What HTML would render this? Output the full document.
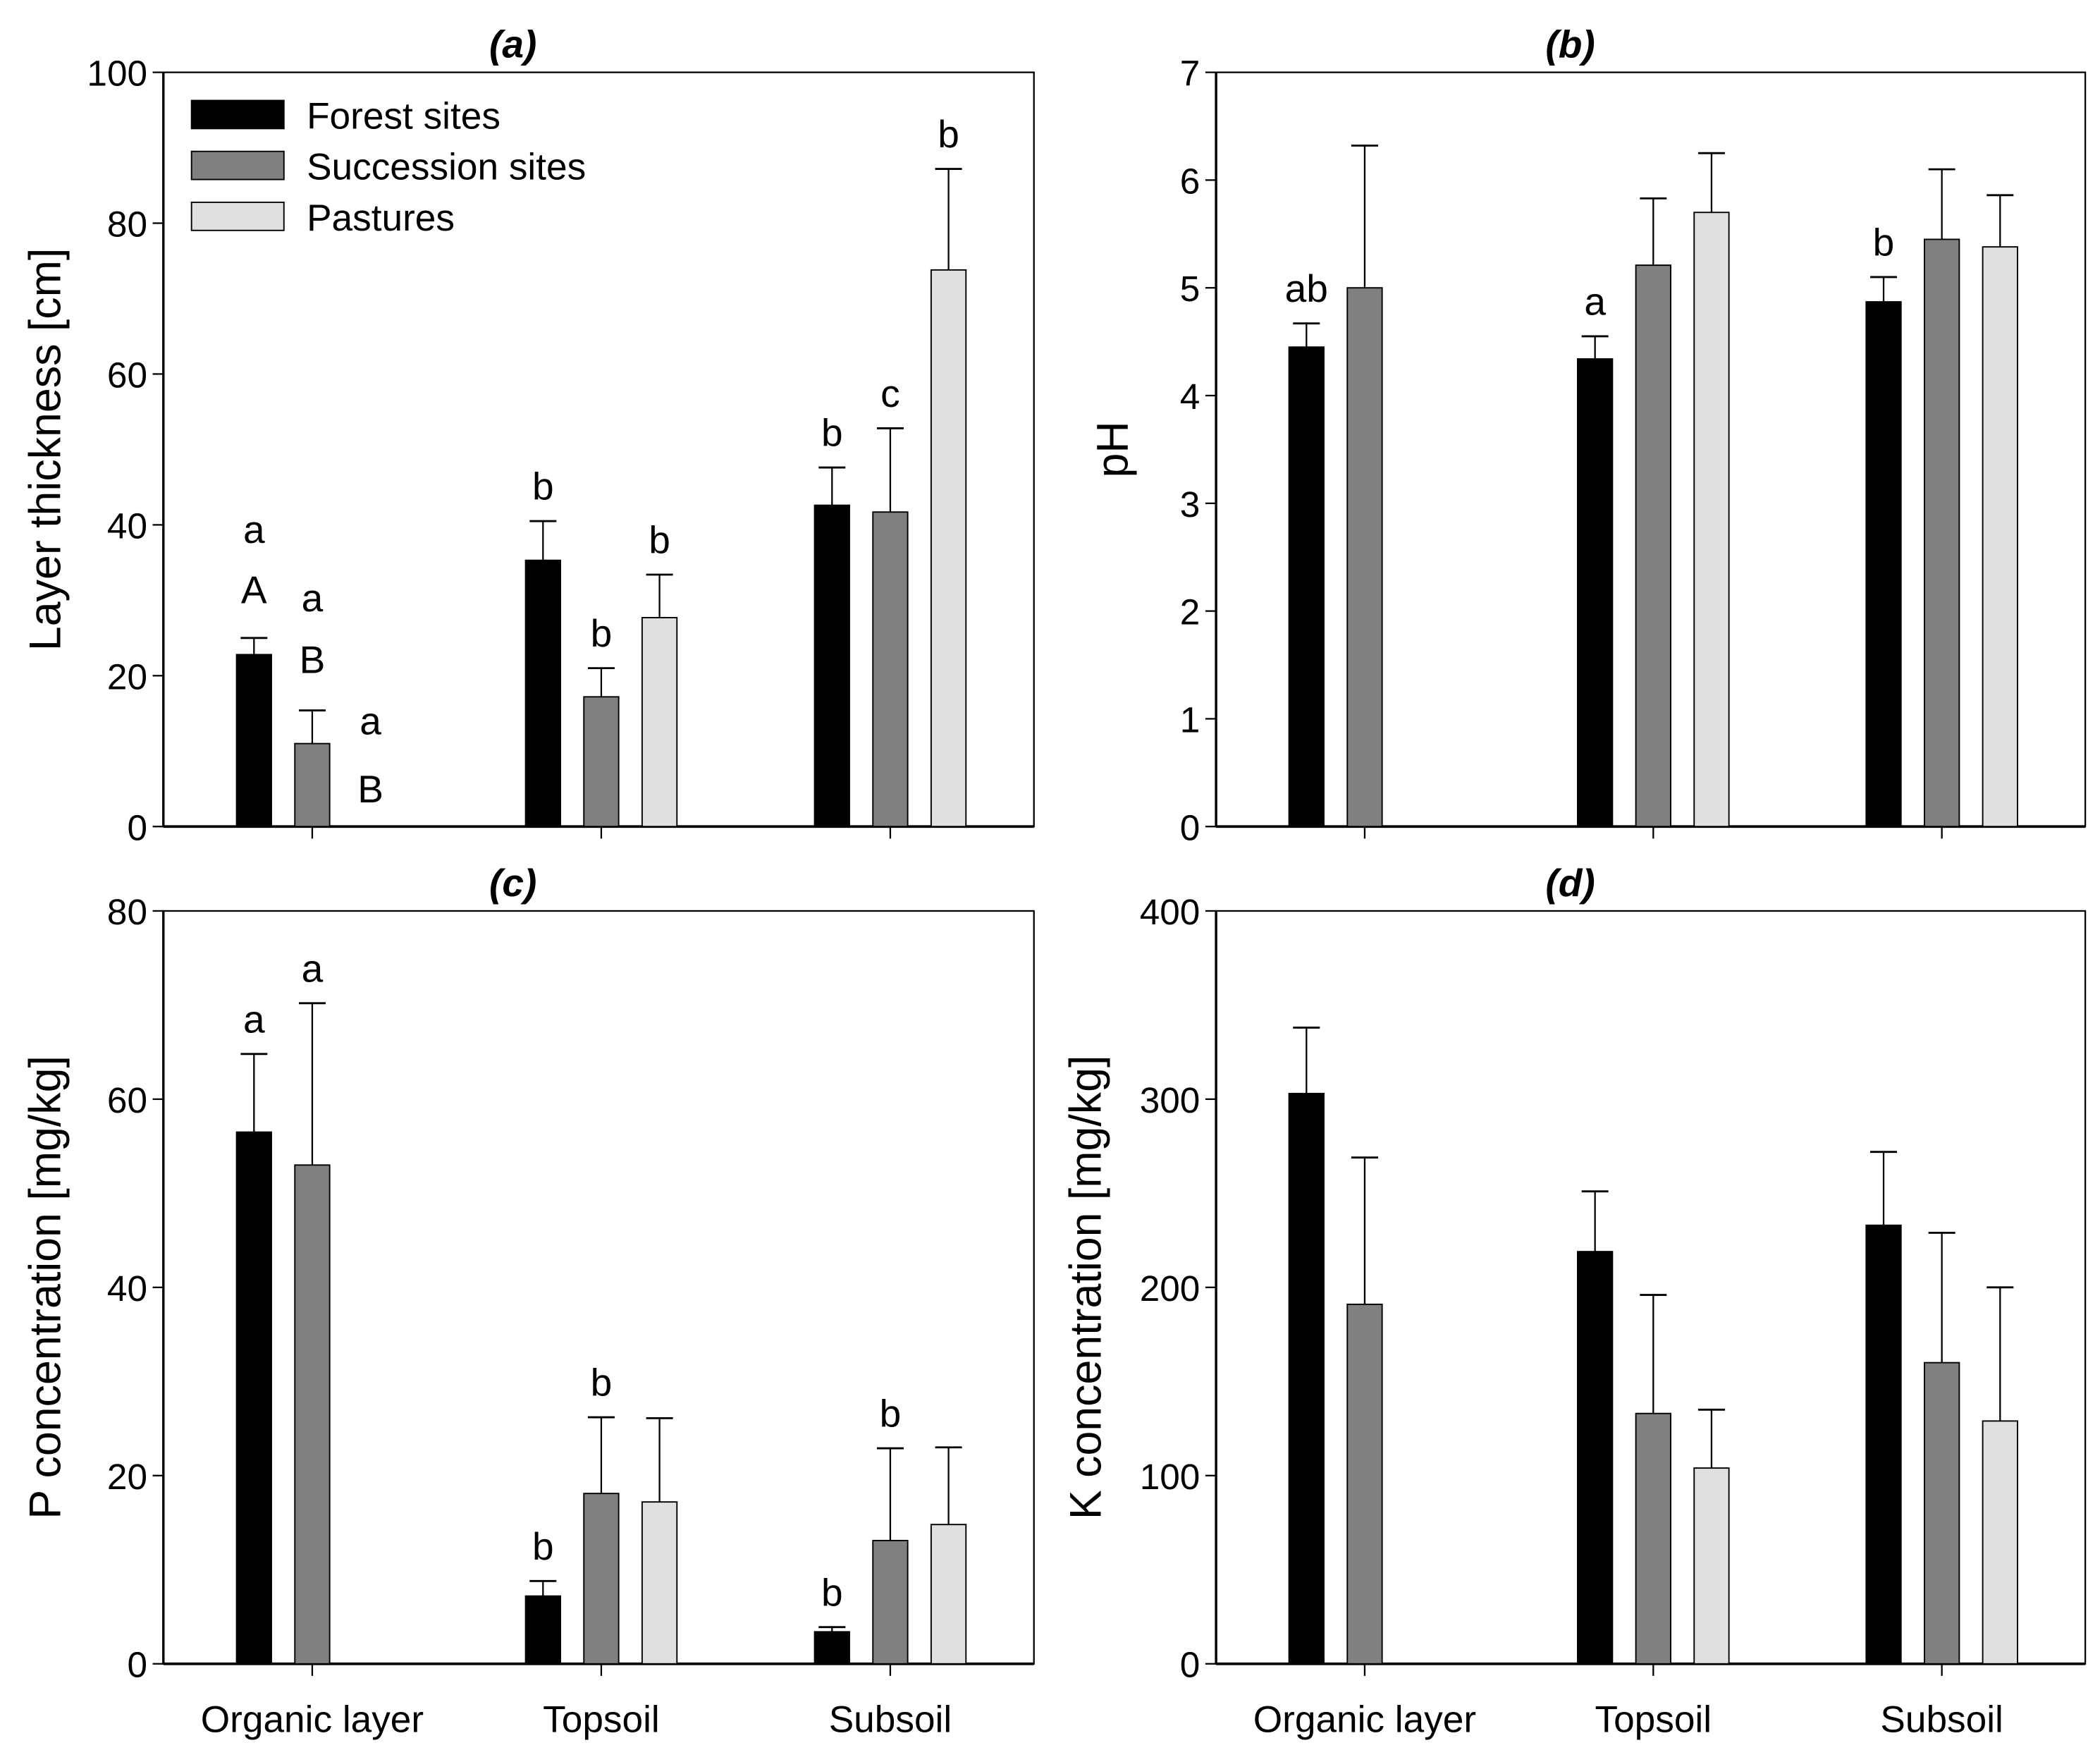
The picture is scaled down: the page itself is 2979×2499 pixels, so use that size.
<!DOCTYPE html>
<html><head><meta charset="utf-8"><style>
html,body{margin:0;padding:0;background:#fff}
svg{display:block}
text{font-family:"Liberation Sans",Arial,sans-serif;fill:#000}
</style></head><body>
<svg id="fig" width="2979" height="2499" viewBox="0 0 1568 1315.3" preserveAspectRatio="none" xmlns="http://www.w3.org/2000/svg"></svg>
<script>
const categories=["Organic layer","Topsoil","Subsoil"];
const seriesNames=["Forest sites","Succession sites","Pastures"];
const aMean=[[22.8,35.3,42.6],[11,17.2,41.7],[null,27.7,73.8]];
const aTop=[[25,40.5,47.6],[15.4,21,52.8],[null,33.4,87.2]];
const bMean=[[4.45,4.34,4.87],[5.0,5.21,5.45],[null,5.7,5.38]];
const bTop=[[4.67,4.55,5.1],[6.32,5.83,6.1],[null,6.25,5.86]];
const cMean=[[56.5,7.2,3.4],[53,18.1,13.1],[null,17.2,14.8]];
const cTop=[[64.8,8.8,3.9],[70.2,26.2,22.9],[null,26.1,23]];
const dMean=[[303,219,233],[191,133,160],[null,104,129]];
const dTop=[[338,251,272],[269,196,229],[null,135,200]];
const aTicks=[0,20,40,60,80,100],bTicks=[0,1,2,3,4,5,6,7],cTicks=[0,20,40,60,80],dTicks=[0,100,200,300,400];
// [series, category, letter, pixel gap above error cap (or absolute value position if no bar)]
const aLetters=[[0,0,"a",71],[0,0,"A",26],[1,0,"a",74],[1,0,"B",28],[2,0,"a",null,14],[2,0,"B",null,5],[0,1,"b",16],[1,1,"b",16],[2,1,"b",16],[0,2,"b",16],[1,2,"c",16],[2,2,"b",16]];
const bLetters=[[0,0,"ab",16],[0,1,"a",16],[0,2,"b",16]];
const cLetters=[[0,0,"a",16],[1,0,"a",16],[0,1,"b",16],[1,1,"b",16],[0,2,"b",16],[1,2,"b",16]];
const fills=["#000","#808080","#e0e0e0"];
const NS="http://www.w3.org/2000/svg";
const svg=document.getElementById('fig');
function el(t,a,p){const e=document.createElementNS(NS,t);for(const k in a)e.setAttribute(k,a[k]);(p||svg).appendChild(e);return e;}
function panel(o){
  const g=el('g',{});
  
  
  const max=o.ticks[o.ticks.length-1];
  const y=v=>o.bottom-(v/max)*(o.bottom-o.top);
  const cx=i=>o.left+(o.right-o.left)*[0.171,0.503,0.835][i];
  const r=el('rect',{x:o.left,y:o.top,width:o.right-o.left,height:o.bottom-o.top,fill:'none',stroke:'#000','stroke-width':1.2},g);
  
  el('line',{x1:o.left,y1:o.top,x2:o.left,y2:o.bottom,stroke:'#000','stroke-width':1.8},g);
  el('line',{x1:o.left,y1:o.bottom,x2:o.right,y2:o.bottom,stroke:'#000','stroke-width':2},g);
  o.ticks.forEach(t=>{
    el('line',{x1:o.left-8,x2:o.left,y1:y(t),y2:y(t),stroke:'#000','stroke-width':1.2},g);
    const tx=el('text',{x:o.left-12,y:y(t)+10,'text-anchor':'end','font-size':27},g);tx.textContent=t;
    
  });
  categories.forEach((c,i)=>{
    el('line',{x1:cx(i),x2:cx(i),y1:o.bottom,y2:o.bottom+9,stroke:'#000','stroke-width':1.2},g);
    if(o.xlabels){const t=el('text',{x:cx(i),y:1293,'text-anchor':'middle','font-size':28},g);t.textContent=c;
      }
  });
  const bw=26,off=43.5;
  for(let s=0;s<3;s++)for(let i=0;i<3;i++){
    const v=o.mean[s][i];if(v==null)continue;
    const x=cx(i)+(s-1)*off;
    const b=el('rect',{x:x-bw/2,y:y(v),width:bw,height:o.bottom-y(v),fill:fills[s],stroke:'#000','stroke-width':1},g);
    
    const tp=o.top2[s][i];
    el('line',{x1:x,x2:x,y1:y(v),y2:y(tp),stroke:'#000','stroke-width':1.2},g);
    el('line',{x1:x-10,x2:x+10,y1:y(tp),y2:y(tp),stroke:'#000','stroke-width':1.5},g);
  }
  (o.letters||[]).forEach(L=>{
    const [s,i,txt,dy,val]=L;const x=cx(i)+(s-1)*off;
    const yy=(o.top2[s][i]!=null)?y(o.top2[s][i])-dy:y(val)+10;
    const t=el('text',{x:x,y:yy,'text-anchor':'middle','font-size':29},g);t.textContent=txt;
    
  });
  const ti=el('text',{x:(o.left+o.right)/2+(o.id==='a'||o.id==='c'?-64:-60),y:o.top-11,'text-anchor':'middle','font-size':29,'font-weight':'bold','font-style':'italic'},g);
  ti.textContent='('+o.id+')';
  const yt=el('text',{x:0,y:0,'text-anchor':'middle','font-size':33,transform:`translate(${o.ytx},${(o.top+o.bottom)/2}) rotate(-90)`},g);
  yt.textContent=o.ytitle;
}
panel({id:'a',left:122,right:772,top:54,bottom:617,ticks:aTicks,mean:aMean,top2:aTop,letters:aLetters,ytitle:'Layer thickness [cm]',ytx:45});
panel({id:'b',left:908,right:1557,top:54,bottom:617,ticks:bTicks,mean:bMean,top2:bTop,letters:bLetters,ytitle:'pH',ytx:842});
panel({id:'c',left:122,right:772,top:680,bottom:1242,ticks:cTicks,mean:cMean,top2:cTop,letters:cLetters,ytitle:'P concentration [mg/kg]',ytx:45,xlabels:true});
panel({id:'d',left:908,right:1557,top:680,bottom:1242,ticks:dTicks,mean:dMean,top2:dTop,ytitle:'K concentration [mg/kg]',ytx:822,xlabels:true});
const lg=el('g',{});


seriesNames.forEach((n,s)=>{
  const yy=75+s*38;
  const r=el('rect',{x:143,y:yy,width:69,height:21,fill:fills[s],stroke:'#000','stroke-width':1},lg);
  
  const t=el('text',{x:229,y:yy+21,'font-size':28},lg);t.textContent=n;
  
});
</script>
</body></html>
